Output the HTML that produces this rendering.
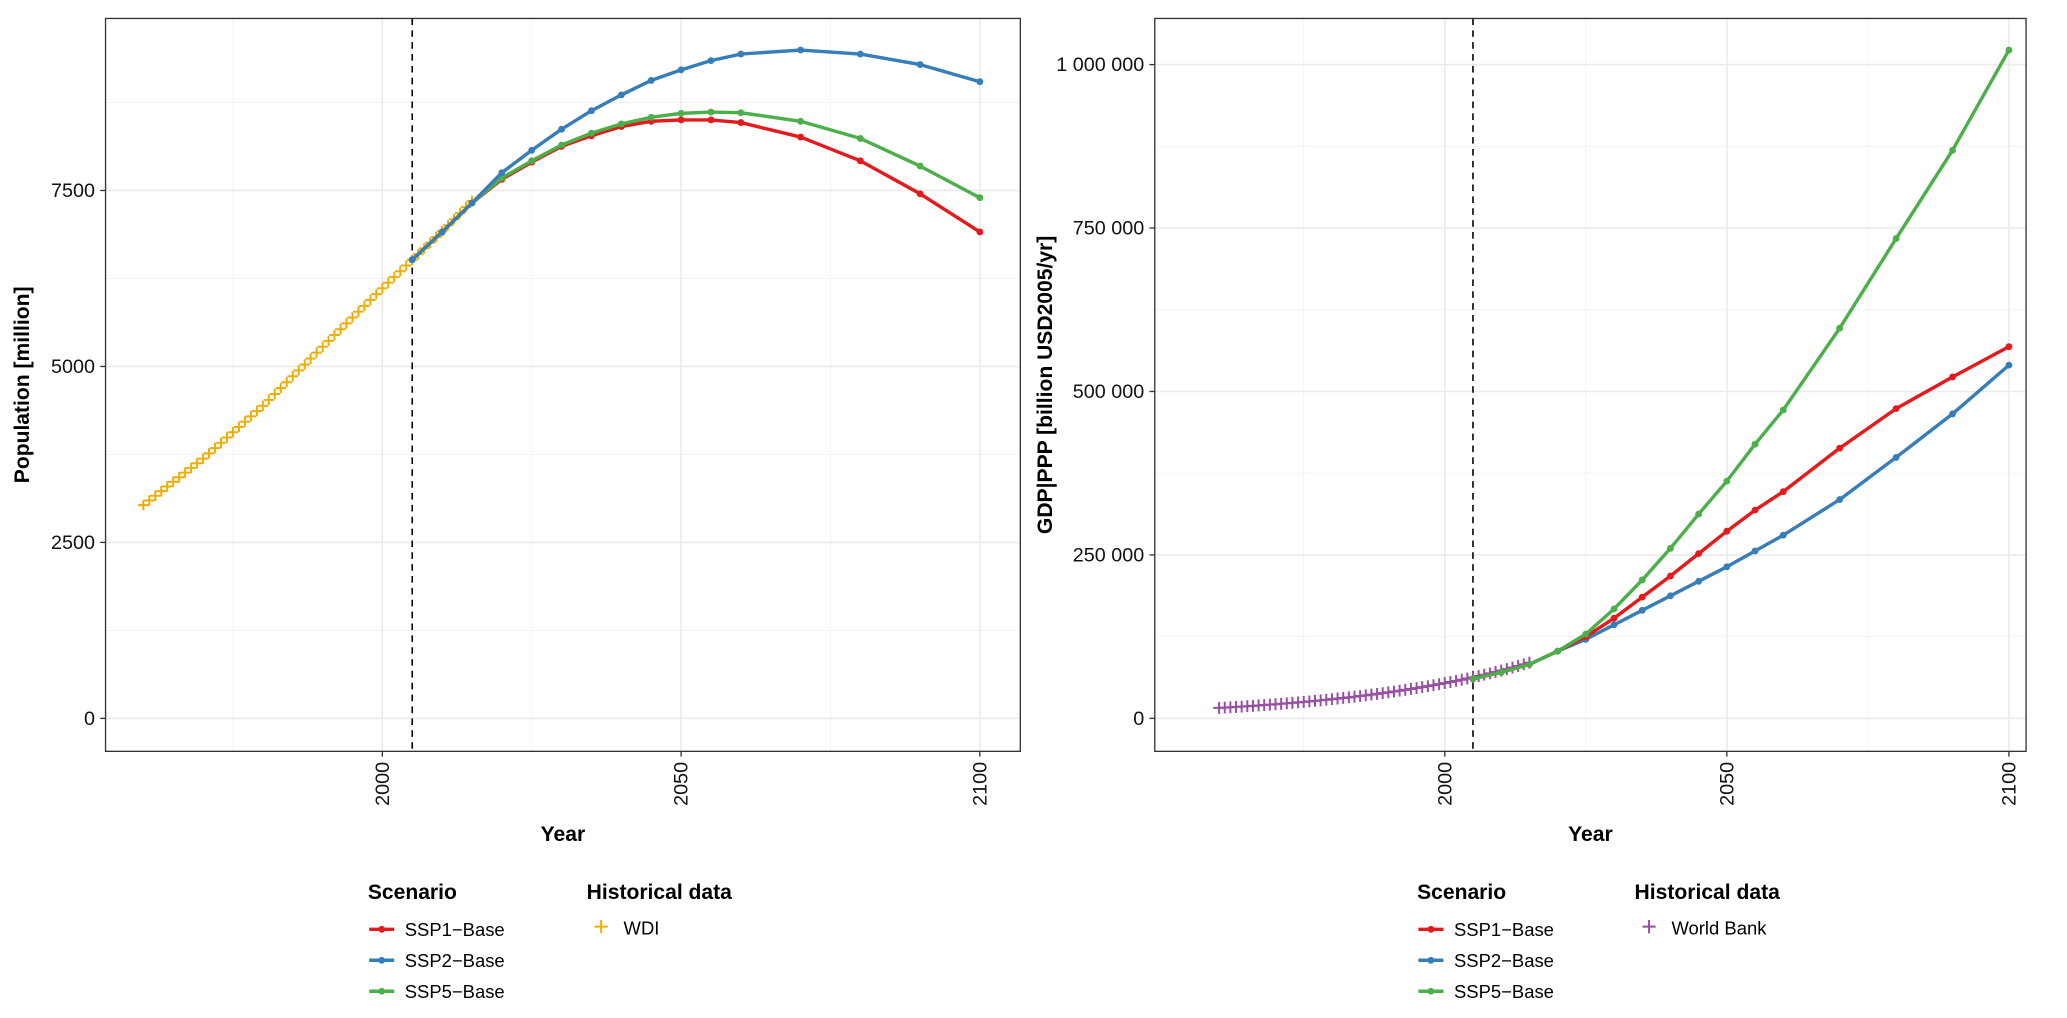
<!DOCTYPE html>
<html><head><meta charset="utf-8"><style>html,body{margin:0;padding:0;background:#fff}svg{display:block}text{font-family:"Liberation Sans",Arial,sans-serif}</style></head>
<body>
<svg id="s" width="2067" height="1018" viewBox="0 0 1568 772.3" xmlns="http://www.w3.org/2000/svg"></svg>
<script>
const s=document.getElementById('s');let h='';
const C={r:'#e41a1c',b:'#377eb8',g:'#4daf4a'};
function panel(L,R,X,Y,ymaj,ymin,ylabels,ytitle,ytx){
  const T=14,B=570;
  h+=`<rect x="${L}" y="${T}" width="${R-L}" height="${B-T}" fill="#fff"/>`;
  [1975,2025,2075].forEach(t=>h+=`<line x1="${X(t)}" x2="${X(t)}" y1="${T}" y2="${B}" stroke="#f2f2f2" stroke-width="0.7"/>`);
  ymin.forEach(v=>h+=`<line x1="${L}" x2="${R}" y1="${Y(v)}" y2="${Y(v)}" stroke="#f2f2f2" stroke-width="0.7"/>`);
  [2000,2050,2100].forEach(t=>h+=`<line x1="${X(t)}" x2="${X(t)}" y1="${T}" y2="${B}" stroke="#ebebeb" stroke-width="1.2"/>`);
  ymaj.forEach((v,i)=>{h+=`<line x1="${L}" x2="${R}" y1="${Y(v)}" y2="${Y(v)}" stroke="#ebebeb" stroke-width="1.2"/>`;
    h+=`<line x1="${L-4}" x2="${L}" y1="${Y(v)}" y2="${Y(v)}" stroke="#333" stroke-width="1"/>`;
    h+=`<text x="${L-8}" y="${Y(v)+5}" text-anchor="end" font-size="15" fill="#111">${ylabels[i]}</text>`;});
  [2000,2050,2100].forEach(t=>{h+=`<line x1="${X(t)}" x2="${X(t)}" y1="${B}" y2="${B+4}" stroke="#333"/>`;
    h+=`<text transform="translate(${X(t)+5},${B+8}) rotate(-90)" text-anchor="end" font-size="15" fill="#111">${t}</text>`;});
  h+=`<line x1="${X(2005)}" x2="${X(2005)}" y1="${T}" y2="${B}" stroke="#000" stroke-width="1.2" stroke-dasharray="5,4"/>`;
  h+=`<text x="${(L+R)/2}" y="638" text-anchor="middle" font-size="16" font-weight="bold">Year</text>`;
  h+=`<text transform="translate(${ytx},292) rotate(-90)" text-anchor="middle" font-size="16" font-weight="bold">${ytitle}</text>`;
  return ()=>h+=`<rect x="${L}" y="${T}" width="${R-L}" height="${B-T}" fill="none" stroke="#333" stroke-width="1"/>`;
}
function plus(x,y,c,sz){h+=`<path d="M${x-sz} ${y}H${x+sz}M${x} ${y-sz}V${y+sz}" stroke="${c}" stroke-width="1.5"/>`;}
function series(pts,c){h+=`<polyline points="${pts.map(p=>p.join(',')).join(' ')}" fill="none" stroke="${c}" stroke-width="2.6" stroke-linejoin="round"/>`;
  pts.forEach(p=>h+=`<circle cx="${p[0]}" cy="${p[1]}" r="2.6" fill="${c}"/>`);}
const yrs=[2005,2010,2015,2020,2025,2030,2035,2040,2045,2050,2055,2060,2070,2080,2090,2100];
let XL=t=>290+(t-2000)*4.533, YL=v=>545-v/2500*133.5;
let close=panel(80,774,XL,YL,[0,2500,5000,7500],[1250,3750,6250,8750],['0','2500','5000','7500'],'Population [million]',22);
const popHist=[[1960,3030],[1970,3690],[1980,4440],[1990,5280],[2000,6110],[2010,6920],[2015,7350]];
for(let t=1960;t<=2015;t++){let i=0;while(popHist[i+1][0]<t)i++;const a=popHist[i],b=popHist[i+1];const v=a[1]+(b[1]-a[1])*(t-a[0])/(b[0]-a[0]);plus(XL(t),YL(v),'#f0ad00',4);}
const pb=[197,176,154,131,114,98,84,72,61,53,46,41,38,41,49,62];
const pr=[197,176,154,136,123,111,103,96,92,91,91,93,104,122,147,176];
const pg=[197,176,154,135,122,110,101,94,89,86,85,85.5,92,105,126,150];
series(yrs.map((t,i)=>[XL(t),pr[i]]),C.r);series(yrs.map((t,i)=>[XL(t),pg[i]]),C.g);series(yrs.map((t,i)=>[XL(t),pb[i]]),C.b);
close();
let XR=t=>1096+(t-2000)*4.28, YR=v=>545-v/250000*124;
close=panel(876,1537,XR,YR,[0,250000,500000,750000,1000000],[125000,375000,625000,875000],['0','250 000','500 000','750 000','1 000 000'],'GDP|PPP [billion USD2005/yr]',798);
for(let t=1960;t<=2015;t++){plus(XR(t),YR(16000*Math.exp(0.0304*(t-1960))),'#984ea3',4.5);}
const g5=[515,510,504,494,481,462,440,416,390,365,337,311,249,181,114,38];
const g1=[515,510,504,494,483,469,453,437,420,403,387,373,340,310,286,263];
const g2=[515,510,504,494,485,474,463,452,441,430,418,406,379,347,314,277];
series(yrs.map((t,i)=>[XR(t),g2[i]]),C.b);series(yrs.map((t,i)=>[XR(t),g1[i]]),C.r);series(yrs.map((t,i)=>[XR(t),g5[i]]),C.g);
close();
function legend(x,hx,hc,hl){
  h+=`<text x="${x}" y="682" font-size="16" font-weight="bold">Scenario</text>`;
  [['SSP1−Base',C.r],['SSP2−Base',C.b],['SSP5−Base',C.g]].forEach((e,i)=>{const y=705+i*23.5;
    h+=`<line x1="${x+1}" x2="${x+20}" y1="${y}" y2="${y}" stroke="${e[1]}" stroke-width="2.6"/><circle cx="${x+10.5}" cy="${y}" r="2.6" fill="${e[1]}"/>`;
    h+=`<text x="${x+28}" y="${y+5}" font-size="14">${e[0]}</text>`;});
  h+=`<text x="${hx}" y="682" font-size="16" font-weight="bold">Historical data</text>`;
  plus(hx+11,703,hc,5);h+=`<text x="${hx+28}" y="709" font-size="14">${hl}</text>`;
}
legend(279,445,'#f0ad00','WDI');legend(1075,1240,'#984ea3','World Bank');
s.innerHTML=h;
</script>
</body></html>
